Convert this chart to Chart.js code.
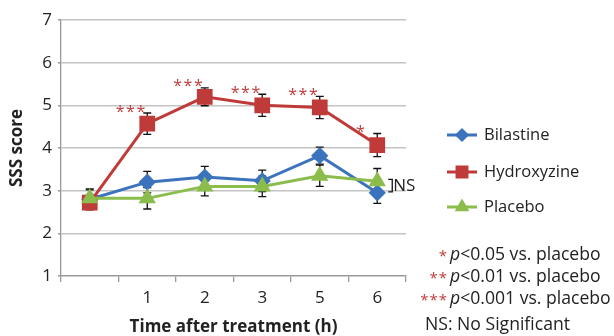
<!DOCTYPE html>
<html>
    <head>
        <title></title>
        <script src="https://cdn.jsdelivr.net/npm/chart.js@4.4.1/dist/chart.umd.min.js"></script>
        <style>
            body { margin: 0; background: #fff; }
        </style>
        <script>
            const categories = ["", "1", "2", "3", "5", "6"];
            const bilastine = [2.8, 3.2, 3.32, 3.23, 3.82, 2.95];
            const bilastineErr = [0.22, 0.25, 0.25, 0.25, 0.2, 0.25];
            const hydroxyzine = [2.72, 4.57, 5.2, 5.0, 4.95, 4.07];
            const hydroxyzineErr = [0.17, 0.25, 0.21, 0.26, 0.26, 0.27];
            const placebo = [2.82, 2.82, 3.1, 3.1, 3.35, 3.22];
            const placeboErr = [0.22, 0.25, 0.22, 0.24, 0.25, 0.3];
            const significance = ["", "***", "***", "***", "***", "*"];
            const footnotes = [["*", "p", "<0.05 vs. placebo"], ["**", "p", "<0.01 vs. placebo"], ["***", "p", "<0.001 vs. placebo"]];

            const BLUE = '#3b73bd';
            const RED = '#bf3b39';
            const GREEN = '#8bbd4c';
            const FONT = "'Open Sans', sans-serif";

            function marker(ctx, style, x, y, r, color)
            {
                Chart.helpers.drawPoint(ctx, { pointStyle: style, radius: r, borderWidth: 1 }, x, y);
                ctx.fillStyle = color;
                ctx.fill();
            }

            const errorBars = {
                id: 'errorBars',
                beforeDatasetsDraw(chart) {
                    const ctx = chart.ctx;
                    const xs = chart.scales.x, ys = chart.scales.y;
                    ctx.save();
                    ctx.strokeStyle = '#111';
                    ctx.lineWidth = 1.3;
                    chart.data.datasets.forEach(ds => {
                        ds.data.forEach((v, i) => {
                            const x = xs.getPixelForValue(i);
                            const top = ys.getPixelForValue(v + ds.err[i]);
                            const bot = ys.getPixelForValue(v - ds.err[i]);
                            ctx.beginPath();
                            ctx.moveTo(x, top); ctx.lineTo(x, bot);
                            ctx.moveTo(x - 4, top); ctx.lineTo(x + 4, top);
                            ctx.moveTo(x - 4, bot); ctx.lineTo(x + 4, bot);
                            ctx.stroke();
                        });
                    });
                    ctx.restore();
                },
                afterDraw(chart) {
                    const ctx = chart.ctx;
                    const xs = chart.scales.x, ys = chart.scales.y;
                    ctx.save();
                    // asterisks above hydroxyzine
                    ctx.fillStyle = RED;
                    ctx.font = "16px " + FONT;
                    ctx.letterSpacing = '1.5px';
                    ctx.textAlign = 'center';
                    ctx.textBaseline = 'middle';
                    significance.forEach((s, i) => {
                        if (!s) return;
                        const x = xs.getPixelForValue(i) - 16;
                        const y = ys.getPixelForValue(hydroxyzine[i] + hydroxyzineErr[i]);
                        ctx.fillText(s, x, y - 1);
                    });
                    ctx.letterSpacing = '0px';
                    // NS bracket
                    const last = categories.length - 1;
                    const bx = xs.getPixelForValue(last) + 15;
                    const by1 = ys.getPixelForValue(placebo[last]) - 2;
                    const by2 = ys.getPixelForValue(bilastine[last]) - 1;
                    ctx.strokeStyle = '#111';
                    ctx.lineWidth = 1.3;
                    ctx.beginPath();
                    ctx.moveTo(bx - 4, by1); ctx.lineTo(bx, by1); ctx.lineTo(bx, by2); ctx.lineTo(bx - 4, by2);
                    ctx.stroke();
                    ctx.fillStyle = '#222';
                    ctx.font = "17px " + FONT;
                    ctx.textAlign = 'left';
                    ctx.fillText('NS', bx + 1, (by1 + by2) / 2 + 1);

                    // legend
                    const items = [['Bilastine', BLUE, 'rectRot', 5, 135], ['Hydroxyzine', RED, 'rect', 7, 172], ['Placebo', GREEN, 'triangle', 5.5, 207]];
                    items.forEach(([label, color, style, r, y]) => {
                        ctx.strokeStyle = color;
                        ctx.lineWidth = 3;
                        ctx.beginPath();
                        ctx.moveTo(447, y); ctx.lineTo(477, y);
                        ctx.stroke();
                        marker(ctx, style, 462, y, r, color);
                        ctx.fillStyle = '#222';
                        ctx.font = "16.5px " + FONT;
                        ctx.textAlign = 'left';
                        ctx.fillText(label, 484, y);
                    });

                    // footnotes
                    footnotes.forEach(([stars, p, rest], k) => {
                        const y = 255 + k * 22;
                        ctx.fillStyle = RED;
                        ctx.font = "15px " + FONT;
                        ctx.letterSpacing = '1px';
                        ctx.textAlign = 'right';
                        ctx.fillText(stars, 448, y + 2);
                        ctx.letterSpacing = '0px';
                        ctx.fillStyle = '#222';
                        ctx.textAlign = 'left';
                        ctx.font = "italic 17.6px " + FONT;
                        ctx.fillText(p, 450, y);
                        const w = ctx.measureText(p).width;
                        ctx.font = "17.6px " + FONT;
                        ctx.fillText(rest, 450 + w, y);
                    });
                    ctx.fillText('NS: No Significant', 425, 325);
                    ctx.restore();
                }
            };

            function loaded()
            {
                const ctx = document.getElementById('chart');
                new Chart(ctx, {
                    type: 'line',
                    data: {
                        labels: categories,
                        datasets: [{
                            label: 'Bilastine',
                            data: bilastine,
                            err: bilastineErr,
                            borderColor: BLUE,
                            backgroundColor: BLUE,
                            pointBackgroundColor: BLUE,
                            pointBorderColor: BLUE,
                            pointStyle: 'rectRot',
                            pointRadius: 6.5,
                            borderWidth: 3,
                            order: 3
                        }, {
                            label: 'Hydroxyzine',
                            data: hydroxyzine,
                            err: hydroxyzineErr,
                            borderColor: RED,
                            backgroundColor: RED,
                            pointBackgroundColor: RED,
                            pointBorderColor: RED,
                            pointStyle: 'rect',
                            pointRadius: 9,
                            borderWidth: 3,
                            order: 2
                        }, {
                            label: 'Placebo',
                            data: placebo,
                            err: placeboErr,
                            borderColor: GREEN,
                            backgroundColor: GREEN,
                            pointBackgroundColor: GREEN,
                            pointBorderColor: GREEN,
                            pointStyle: 'triangle',
                            pointRadius: 7,
                            borderWidth: 3,
                            order: 1
                        }]
                    },
                    options: {
                        responsive: false,
                        devicePixelRatio: 1,
                        animation: false,
                        layout: { padding: { top: 20, right: 208, left: 0, bottom: 0 } },
                        plugins: {
                            legend: { display: false },
                            tooltip: { enabled: false }
                        },
                        scales: {
                            x: {
                                offset: true,
                                grid: { offset: true, drawOnChartArea: false, drawTicks: true, tickLength: 6, color: '#999', lineWidth: 1.3 },
                                border: { color: '#999', width: 1.3 },
                                ticks: { color: '#222', font: { family: FONT, size: 17 }, padding: 6, maxRotation: 0 },
                                title: { display: true, text: 'Time after treatment (h)', color: '#222', font: { family: FONT, size: 17, weight: 'bold' }, padding: { top: 0, bottom: -1 } },
                                afterFit(scale) { scale.height = 60; }
                            },
                            y: {
                                min: 1,
                                max: 7,
                                ticks: { stepSize: 1, color: '#222', font: { family: FONT, size: 17 }, padding: 6 },
                                grid: { color: '#c4c4c4', lineWidth: 1.5, tickLength: 3, tickColor: '#999' },
                                border: { color: '#999', width: 1.3 },
                                title: { display: true, text: 'SSS score', color: '#222', font: { family: FONT, size: 17, weight: 'bold' }, padding: { top: 7, bottom: 0 } },
                                afterFit(scale) { scale.width = 61; }
                            }
                        }
                    },
                    plugins: [errorBars]
                });
            }

            window.addEventListener('load', loaded, true);
        </script>
    </head>
    <body>
        <canvas id="chart" width="614" height="336"></canvas>
    </body>
</html>
